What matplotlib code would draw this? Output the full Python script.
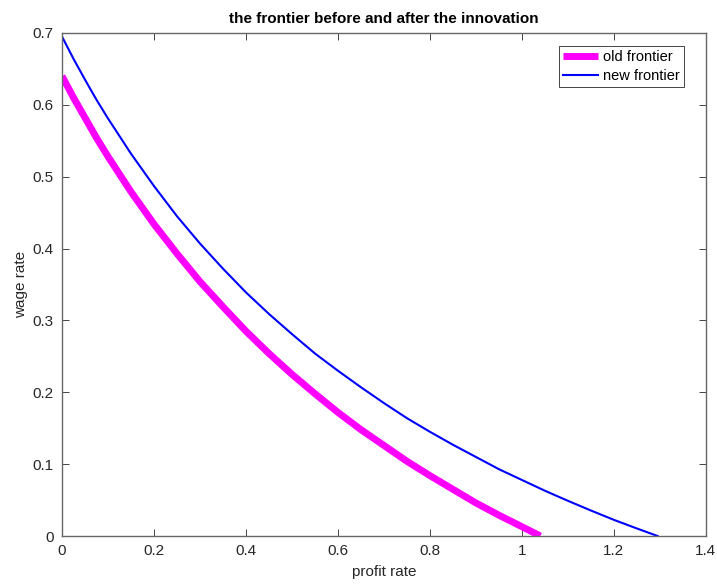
import matplotlib
matplotlib.use("Agg")
import matplotlib.pyplot as plt

# values
old_r = [0.0, 0.025, 0.05, 0.075, 0.1, 0.15, 0.2, 0.25, 0.3, 0.35, 0.4, 0.45, 0.5,
         0.55, 0.6, 0.65, 0.7, 0.75, 0.8, 0.85, 0.9, 0.95, 1.0, 1.04]
old_w = [0.64, 0.610, 0.582, 0.554, 0.528, 0.479, 0.434, 0.393, 0.354, 0.319, 0.285, 0.254, 0.225,
         0.198, 0.172, 0.148, 0.126, 0.104, 0.084, 0.065, 0.046, 0.029, 0.013, 0.0]

new_r = [0.0, 0.025, 0.05, 0.075, 0.1, 0.15, 0.2, 0.25, 0.3, 0.35, 0.4, 0.45, 0.5,
         0.55, 0.6, 0.65, 0.7, 0.75, 0.8, 0.85, 0.9, 0.95, 1.0, 1.05, 1.1, 1.15,
         1.2, 1.25, 1.295]
new_w = [0.695, 0.664, 0.635, 0.607, 0.581, 0.532, 0.487, 0.445, 0.407, 0.372, 0.339, 0.309, 0.281,
         0.254, 0.230, 0.207, 0.185, 0.164, 0.145, 0.127, 0.110, 0.093, 0.078, 0.063, 0.049, 0.0355,
         0.0225, 0.0105, 0.0]

xticks = [0, 0.2, 0.4, 0.6, 0.8, 1, 1.2, 1.4]
xticklabels = ["0", "0.2", "0.4", "0.6", "0.8", "1", "1.2", "1.4"]
yticks = [0, 0.1, 0.2, 0.3, 0.4, 0.5, 0.6, 0.7]
yticklabels = ["0", "0.1", "0.2", "0.3", "0.4", "0.5", "0.6", "0.7"]

plt.rcParams['font.family'] = ['Liberation Sans', 'DejaVu Sans']
gray = (0.15, 0.15, 0.15)

fig = plt.figure(figsize=(7.17, 5.88), dpi=100)
ax = fig.add_axes([0.0865, 0.0884, 0.898, 0.8555])

ax.plot(old_r, old_w, color='#ff00ff', linewidth=5, solid_capstyle='butt',
        solid_joinstyle='round', label='old frontier')
ax.plot(new_r, new_w, color='#0000ff', linewidth=1.5, solid_joinstyle='round',
        label='new frontier')

ax.set_xlim(0, 1.4)
ax.set_ylim(0, 0.7)
ax.set_xticks(xticks)
ax.set_xticklabels(xticklabels)
ax.set_yticks(yticks)
ax.set_yticklabels(yticklabels)

ax.tick_params(direction='in', top=True, right=True, labelsize=11,
               colors=gray, length=5, width=0.6, pad=6)
for s in ax.spines.values():
    s.set_color((0.4, 0.4, 0.4))
    s.set_linewidth(1.0)

ax.set_xlabel('profit rate', fontsize=11, color=gray, labelpad=5)
ax.set_ylabel('wage rate', fontsize=11, color=gray, labelpad=3)
ax.set_title('the frontier before and after the innovation', fontsize=11,
             fontweight='bold', pad=7)

leg = ax.legend(loc='upper right', fontsize=10.5, fancybox=False,
                edgecolor=gray, framealpha=1, borderpad=0.3,
                handlelength=2.4, handletextpad=0.3, labelspacing=0.3,
                borderaxespad=0, bbox_to_anchor=(0.966, 0.974))
leg.get_frame().set_linewidth(0.6)

fig.savefig('out.png', dpi=100)
